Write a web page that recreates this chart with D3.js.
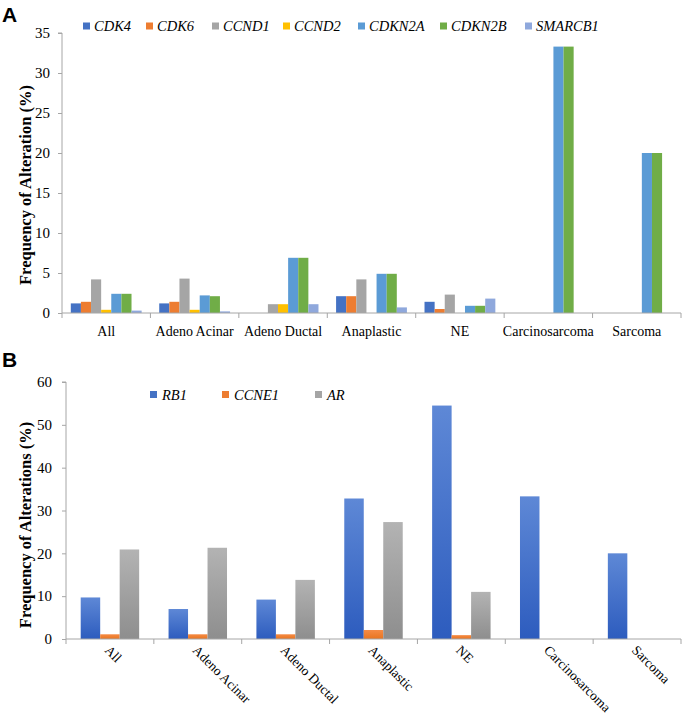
<!DOCTYPE html>
<html><head><meta charset="utf-8">
<script src="https://cdn.jsdelivr.net/npm/d3@7"></script>
<style>
body{margin:0;background:#fff}
svg{display:block}
svg text{font-family:"Liberation Serif","Times New Roman",Times,"Nimbus Roman","DejaVu Serif",serif}
svg text.panel{font-family:"Liberation Sans",Arial,"DejaVu Sans",sans-serif;font-weight:bold}
</style>
</head><body>
<svg id="c" width="682" height="718"></svg>
<script>
// ---------- Data ----------
const categories = ["All","Adeno Acinar","Adeno Ductal","Anaplastic","NE","Carcinosarcoma","Sarcoma"];
const seriesA = ["CDK4","CDK6","CCND1","CCND2","CDKN2A","CDKN2B","SMARCB1"];
const CDK4    = [1.2, 1.2, 0,   2.1, 1.4, 0,    0];
const CDK6    = [1.4, 1.4, 0,   2.1, 0.5, 0,    0];
const CCND1   = [4.2, 4.3, 1.1, 4.2, 2.3, 0,    0];
const CCND2   = [0.4, 0.4, 1.1, 0,   0,   0,    0];
const CDKN2A  = [2.4, 2.2, 6.9, 4.9, 0.9, 33.3, 20];
const CDKN2B  = [2.4, 2.1, 6.9, 4.9, 0.9, 33.3, 20];
const SMARCB1 = [0.3, 0.2, 1.1, 0.7, 1.8, 0,    0];
const valuesA = [CDK4, CDK6, CCND1, CCND2, CDKN2A, CDKN2B, SMARCB1];
const colorsA = ["#4472C4","#ED7D31","#A5A5A5","#FFC000","#5B9BD5","#70AD47","#8FA8DC"];
const ticksA = [0,5,10,15,20,25,30,35];

const seriesB = ["RB1","CCNE1","AR"];
const RB1   = [9.7, 7.0, 9.2, 32.8, 54.5, 33.3, 20];
const CCNE1 = [1.1, 1.1, 1.1, 2.1,  0.9,  0,    0];
const AR    = [20.9, 21.3, 13.8, 27.3, 11.0, 0, 0];
const valuesB = [RB1, CCNE1, AR];
const gradB = [["#5E88D6","#2D5CBE"],["#F58B45","#E8741F"],["#B3B3B3","#8E8E8E"]];
const legendColB = ["#4472C4","#ED7D31","#A5A5A5"];
const ticksB = [0,10,20,30,40,50,60];

const svg = d3.select("#c");
const axisCol = "#A6A6A6";

// ---------- Panel A ----------
{
  const left = 62, right = 681, top = 33, bottom = 313;
  const x = d3.scaleBand().domain(categories).range([left, right]).padding(0);
  const xs = d3.scaleBand().domain(seriesA).range([8.8, x.bandwidth() - 8.8]).padding(0);
  const y = d3.scaleLinear().domain([0, 35]).range([bottom, top]);

  const g = svg.append("g");
  seriesA.forEach((s, si) => {
    g.selectAll(null).data(categories.map((c, ci) => ({c, v: valuesA[si][ci]})).filter(d => d.v > 0))
      .enter().append("rect")
      .attr("x", d => x(d.c) + xs(s))
      .attr("width", xs.bandwidth())
      .attr("y", d => y(d.v))
      .attr("height", d => y(0) - y(d.v))
      .attr("fill", colorsA[si]);
  });

  const ya = svg.append("g").attr("transform", `translate(${left},0)`)
    .call(d3.axisLeft(y).tickValues(ticksA).tickSize(4).tickPadding(8));
  ya.select(".domain").attr("stroke", axisCol).attr("d", `M-4,${top}H0V${bottom}`);
  ya.selectAll(".tick line").attr("stroke", axisCol);
  ya.selectAll("text").attr("font-size", 15).attr("fill", "#000");

  const xa = svg.append("g").attr("transform", `translate(0,${bottom})`);
  xa.append("line").attr("x1", left).attr("x2", right).attr("stroke", axisCol);
  xa.selectAll(null).data(categories.concat(["_end"])).enter().append("line")
    .attr("x1", (d,i) => i < categories.length ? x(d) : right)
    .attr("x2", (d,i) => i < categories.length ? x(d) : right)
    .attr("y1", 0).attr("y2", 5).attr("stroke", axisCol);
  xa.selectAll(null).data(categories).enter().append("text")
    .attr("x", d => x(d) + x.bandwidth()/2).attr("y", 23)
    .attr("text-anchor", "middle").attr("font-size", 14)
    .text(d => d);

  svg.append("text").attr("transform", `translate(27,185) rotate(-90)`)
    .attr("text-anchor", "middle").attr("dominant-baseline", "middle")
    .attr("font-weight", "bold").attr("font-size", 16.5)
    .text("Frequency of Alteration (%)");

  const legX = [83, 146, 212, 283, 358, 440, 525];
  const lg = svg.append("g");
  seriesA.forEach((s, i) => {
    lg.append("rect").attr("x", legX[i]).attr("y", 22.5).attr("width", 7).attr("height", 7).attr("fill", colorsA[i]);
    lg.append("text").attr("x", legX[i] + 11).attr("y", 31)
      .attr("font-style", "italic").attr("font-size", 14.5).text(s);
  });

  svg.append("text").attr("class", "panel").attr("x", 2).attr("y", 22).attr("font-size", 21).text("A");
}

// ---------- Panel B ----------
{
  const left = 66, right = 681, top = 382, bottom = 639;
  const x = d3.scaleBand().domain(categories).range([left, right]).padding(0);
  const xs = d3.scaleBand().domain(seriesB).range([14.7, x.bandwidth() - 14.7]).padding(0);
  const y = d3.scaleLinear().domain([0, 60]).range([bottom, top]);

  const defs = svg.append("defs");
  seriesB.forEach((s, i) => {
    const lgd = defs.append("linearGradient").attr("id", "g" + s).attr("x1", 0).attr("y1", 0).attr("x2", 0).attr("y2", 1);
    lgd.append("stop").attr("offset", "0%").attr("stop-color", gradB[i][0]);
    lgd.append("stop").attr("offset", "100%").attr("stop-color", gradB[i][1]);
  });

  const g = svg.append("g");
  seriesB.forEach((s, si) => {
    g.selectAll(null).data(categories.map((c, ci) => ({c, v: valuesB[si][ci]})).filter(d => d.v > 0))
      .enter().append("rect")
      .attr("x", d => x(d.c) + xs(s))
      .attr("width", xs.bandwidth())
      .attr("y", d => y(d.v))
      .attr("height", d => y(0) - y(d.v))
      .attr("fill", `url(#g${s})`);
  });

  const ya = svg.append("g").attr("transform", `translate(${left},0)`)
    .call(d3.axisLeft(y).tickValues(ticksB).tickSize(4).tickPadding(10));
  ya.select(".domain").attr("stroke", axisCol).attr("d", `M-4,${top}H0V${bottom}`);
  ya.selectAll(".tick line").attr("stroke", axisCol);
  ya.selectAll("text").attr("font-size", 15).attr("fill", "#000");

  const xa = svg.append("g").attr("transform", `translate(0,${bottom})`);
  xa.append("line").attr("x1", left).attr("x2", right).attr("stroke", axisCol);
  xa.selectAll(null).data(categories.concat(["_end"])).enter().append("line")
    .attr("x1", (d,i) => i < categories.length ? x(d) : right)
    .attr("x2", (d,i) => i < categories.length ? x(d) : right)
    .attr("y1", 0).attr("y2", 5).attr("stroke", axisCol);
  xa.selectAll(null).data(categories).enter().append("text")
    .attr("transform", d => `translate(${x(d) + x.bandwidth()/2 - 6},${12}) rotate(45)`)
    .attr("text-anchor", "start").attr("font-size", 13.5)
    .text(d => d);

  svg.append("text").attr("transform", `translate(27,525) rotate(-90)`)
    .attr("text-anchor", "middle").attr("dominant-baseline", "middle")
    .attr("font-weight", "bold").attr("font-size", 16.5)
    .text("Frequency of Alterations (%)");

  const legX = [150, 222, 315];
  seriesB.forEach((s, i) => {
    svg.append("rect").attr("x", legX[i]).attr("y", 391).attr("width", 7).attr("height", 7).attr("fill", legendColB[i]);
    svg.append("text").attr("x", legX[i] + 12).attr("y", 399.5)
      .attr("font-style", "italic").attr("font-size", 14.5).text(s);
  });

  svg.append("text").attr("class", "panel").attr("x", 2).attr("y", 367).attr("font-size", 21).text("B");
}
</script>
</body></html>
